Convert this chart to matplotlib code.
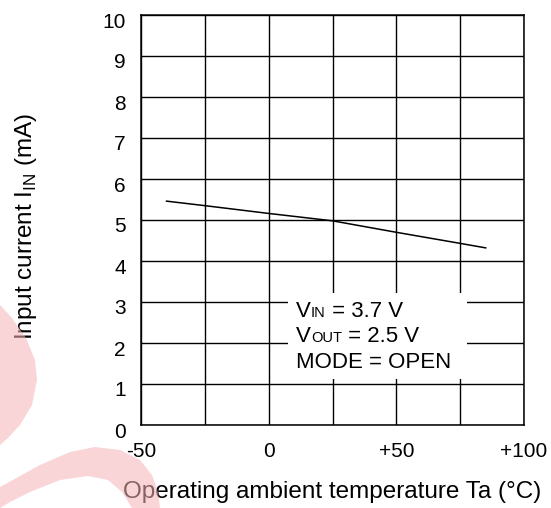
import matplotlib
matplotlib.use("Agg")
import matplotlib.pyplot as plt
from matplotlib.patches import Rectangle, Polygon
import matplotlib.transforms as mtransforms

plt.rcParams['font.family'] = ['Liberation Sans', 'DejaVu Sans']
plt.rcParams['mathtext.fontset'] = 'custom'
plt.rcParams['mathtext.rm'] = 'Liberation Sans'

# data
temp = [-40, -25, 0, 25, 50, 75, 85]
current = [5.46, 5.35, 5.16, 4.98, 4.70, 4.43, 4.32]
xticks = [-50, -25, 0, 25, 50, 75, 100]
xticklabels = ['-50', '', '0', '', '+50', '', '+100']
yticks = list(range(0, 11))
conditions = [
    [('V', 16), ('IN', 10.5), (' = 3.7 V', 16)],
    [('V', 16), ('OUT', 10.5), (' = 2.5 V', 16)],
    [('MODE = OPEN', 16)],
]

W, H = 551, 508
fig = plt.figure(figsize=(W / 100, H / 100), dpi=100)
ax = fig.add_axes([141 / W, 1 - 425 / H, 383 / W, 410 / H])
ax.set_xlim(-50, 100)
ax.set_ylim(0, 10)
ax.set_xticks(xticks)
ax.set_xticklabels(xticklabels, fontsize=15)
ax.set_yticks(yticks)
ax.set_yticklabels([str(v) for v in yticks], fontsize=15)
ax.tick_params(length=0)
ax.tick_params(axis='x', pad=12)
ax.tick_params(axis='y', pad=11)
off = mtransforms.ScaledTranslation(0, -5 / 100, fig.dpi_scale_trans)
for lab in ax.get_yticklabels():
    lab.set_transform(lab.get_transform() + off)
ax.set_axisbelow(True)
ax.grid(True, color='black', linewidth=1.0)
for s in ax.spines.values():
    s.set_linewidth(1.1)

ax.plot(temp, current, color='black', linewidth=1.1, zorder=3)

# white box behind conditions text
ax.add_patch(Rectangle((7.6, 1.12), 70.1, 2.1, facecolor='white',
                       edgecolor='none', zorder=1.5))

x0 = 10.7
baselines = [2.634, 2.024, 1.39]
for yb, parts in zip(baselines, conditions):
    s, fs = parts[0]
    prev = ax.text(x0, yb, s, fontsize=fs, va='baseline', ha='left', zorder=4)
    prev_fs = fs
    for s, fs in parts[1:]:
        prev = ax.annotate(s, xy=(1, 0), xycoords=prev,
                           xytext=(0, 0.212 * prev_fs), textcoords='offset points',
                           va='baseline', ha='left', fontsize=fs, zorder=4)
        prev_fs = fs

fig.text(332 / W, 1 - 492 / H, 'Operating ambient temperature Ta (°C)',
         fontsize=17.5, ha='center', va='center')
fig.text(26 / W, 1 - 226 / H, r'Input current I$_\mathregular{IN}$ (mA)',
         fontsize=17.5, rotation=90, ha='center', va='center')

# pink watermark
def px(pts):
    return [(x / W, 1 - y / H) for x, y in pts]

blob1 = [(0, 305), (12, 318), (26, 338), (35, 360), (37, 380), (32, 405),
         (20, 425), (8, 438), (0, 445)]
band = [(0, 487), (40, 465), (70, 452), (95, 447), (120, 450), (140, 460),
        (152, 475), (158, 492), (160, 508), (132, 508), (122, 492), (108, 480),
        (88, 476), (60, 480), (30, 492), (10, 502), (0, 508)]
for pts in (blob1, band):
    fig.add_artist(Polygon(px(pts), closed=True, transform=fig.transFigure,
                           facecolor=(0.96, 0.70, 0.72), edgecolor='none',
                           alpha=0.55, zorder=10))

fig.savefig('out.png', dpi=100)
